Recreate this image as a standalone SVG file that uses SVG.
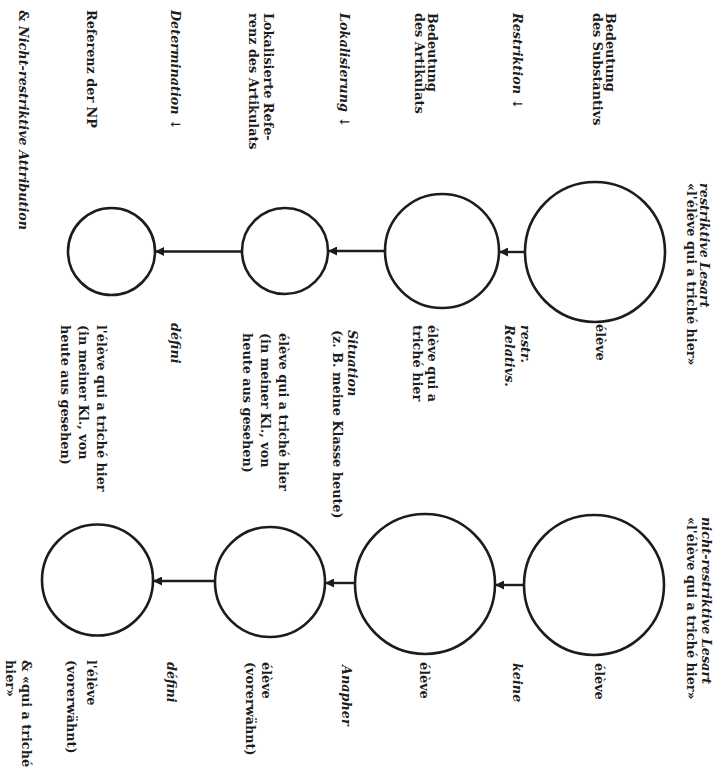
<svg xmlns="http://www.w3.org/2000/svg" width="723" height="772" viewBox="0 0 723 772">
<defs>
<style>
.t{font-family:"DejaVu Serif","Liberation Serif",serif;font-weight:bold;font-size:12.8px;fill:#1c1c1c}
.i{font-style:italic}
.n{fill:none;stroke:#1c1c1c;stroke-width:2.6}
.c{stroke:#1c1c1c;stroke-width:2.4;fill:none}
</style>
<marker id="ah" viewBox="0 0 10 10" refX="10" refY="5" markerWidth="9" markerHeight="9" markerUnits="userSpaceOnUse" orient="auto">
<path d="M0,0 L10,5 L0,10 z" fill="#1c1c1c"/>
</marker>
</defs>
<rect width="723" height="772" fill="#ffffff"/>
<g transform="translate(723,0) rotate(90)">
<g id="row-labels">
<text class="t" x="13" y="117">Bedeutung</text>
<text class="t" x="13" y="130">des Substantivs</text>
<text class="t" x="13" y="210"><tspan class="i">Restriktion</tspan> ↓</text>
<text class="t" x="13" y="295">Bedeutung</text>
<text class="t" x="13" y="308">des Artikulats</text>
<text class="t" x="13" y="383"><tspan class="i">Lokalisierung</tspan> ↓</text>
<text class="t" x="13" y="459">Lokalisierte Refe-</text>
<text class="t" x="13" y="474">renz des Artikulats</text>
<text class="t" x="10" y="552"><tspan class="i">Determination</tspan> ↓</text>
<text class="t" x="10" y="636">Referenz der NP</text>
<text class="t" x="10" y="704">&amp; <tspan class="i">Nicht-restriktive  Attribution</tspan></text>
</g>
<g id="connectors">
<line class="c" x1="252" y1="198" x2="252" y2="224" marker-end="url(#ah)"/>
<line class="c" x1="251" y1="338" x2="251" y2="395" marker-end="url(#ah)"/>
<line class="c" x1="251.5" y1="481" x2="251.5" y2="568" marker-end="url(#ah)"/>
<line class="c" x1="585" y1="199" x2="585" y2="228" marker-end="url(#ah)"/>
<line class="c" x1="583" y1="368" x2="583" y2="398" marker-end="url(#ah)"/>
<line class="c" x1="581" y1="508" x2="581" y2="570" marker-end="url(#ah)"/>
</g>
<g id="col-restriktiv">
<text class="t i" x="183" y="23">restriktive Lesart</text>
<text class="t" x="183" y="36">«l'élève qui a triché hier»</text>
<g id="node-r1"><circle class="n" cx="252" cy="128" r="70"/><text class="t" x="324" y="127">élève</text></g>
<text class="t i" x="325" y="202">restr.</text>
<text class="t i" x="325" y="218">Relativs.</text>
<g id="node-r2"><circle class="n" cx="251" cy="281" r="57"/><text class="t" x="325" y="295">élève qui a</text><text class="t" x="325" y="310">triché hier</text></g>
<text class="t i" x="330" y="375">Situation</text>
<text class="t" x="330" y="390">(z. B. meine Klasse heute)</text>
<g id="node-r3"><circle class="n" cx="251" cy="438" r="43"/><text class="t" x="333" y="444">élève qui a triché hier</text><text class="t" x="333" y="462">(in meiner Kl., von</text><text class="t" x="333" y="480">heute aus gesehen)</text></g>
<text class="t i" x="323" y="552">défini</text>
<g id="node-r4"><circle class="n" cx="251.5" cy="611.5" r="43.5"/><text class="t" x="325" y="626">l'élève qui a triché hier</text><text class="t" x="325" y="644">(in meiner Kl., von</text><text class="t" x="325" y="662">heute aus gesehen)</text></g>
</g>
<g id="col-nichtrestriktiv">
<text class="t i" x="517" y="21">nicht-restriktive Lesart</text>
<text class="t" x="517" y="36">«l'élève qui a triché hier»</text>
<g id="node-n1"><circle class="n" cx="585" cy="129" r="70"/><text class="t" x="663" y="128">élève</text></g>
<text class="t i" x="663" y="210">keine</text>
<g id="node-n2"><circle class="n" cx="584" cy="298" r="70"/><text class="t" x="662" y="303">élève</text></g>
<text class="t i" x="665" y="381">Anapher</text>
<g id="node-n3"><circle class="n" cx="582" cy="453" r="55"/><text class="t" x="662" y="461">élève</text><text class="t" x="662" y="477">(vorerwähnt)</text></g>
<text class="t i" x="662" y="556">défini</text>
<g id="node-n4"><circle class="n" cx="580" cy="625.5" r="55.5"/><text class="t" x="660" y="636">l'élève</text><text class="t" x="660" y="656">(vorerwähnt)</text></g>
<text class="t" x="660" y="701">&amp; «qui a triché</text>
<text class="t" x="660" y="717">hier»</text>
</g>
</g>
</svg>
